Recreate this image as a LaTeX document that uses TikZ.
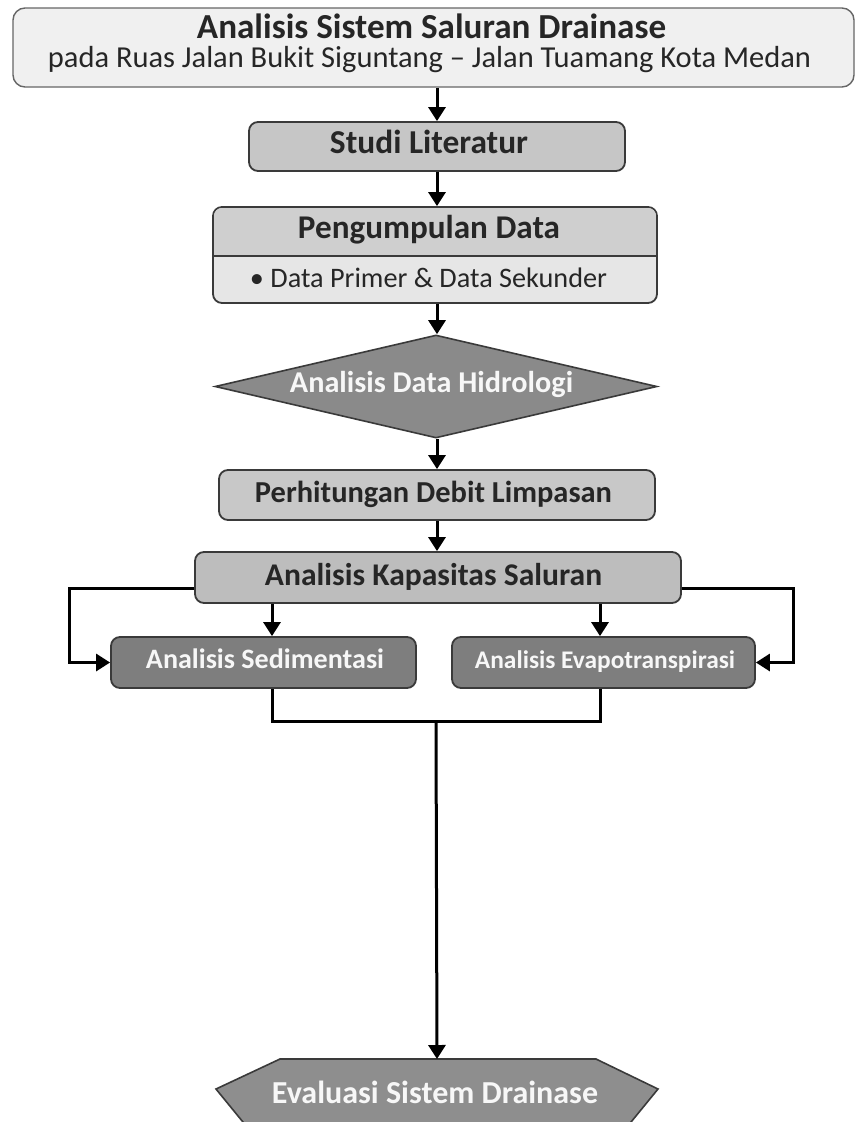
\documentclass[tikz,border=0pt]{standalone}
\usepackage{fontspec}
\setmainfont{Carlito}
\usetikzlibrary{arrows.meta,shapes.geometric,calc}
\definecolor{bordc}{HTML}{3A3A3A}
\definecolor{txtc}{HTML}{262626}
\definecolor{titlefill}{HTML}{F0F0F0}
\definecolor{studifill}{HTML}{C6C6C6}
\definecolor{pgtop}{HTML}{CFCFCF}
\definecolor{pglow}{HTML}{E6E6E6}
\definecolor{diafill}{HTML}{8A8A8A}
\definecolor{perhfill}{HTML}{C8C8C8}
\definecolor{kapfill}{HTML}{BDBDBD}
\definecolor{darkfill}{HTML}{7E7E7E}
\definecolor{evalfill}{HTML}{8E8E8E}
\definecolor{whitetxt}{HTML}{F7F7F7}
\newcommand{\fitw}[2]{\resizebox{#1pt}{!}{#2}}
\begin{document}
\begin{tikzpicture}[x=1pt,y=-1pt,
  box/.style={draw=bordc, line width=1.8pt, rounded corners=9pt, inner sep=0pt},
  lbl/.style={anchor=base, inner sep=0pt, text=txtc},
  wlbl/.style={anchor=base, inner sep=0pt, text=whitetxt},
  arr/.style={line width=3pt, -{Triangle[width=17pt 0 0,length=14pt 0 0]}},
  ln/.style={line width=3pt}]
\useasboundingbox (0,0) rectangle (856,1122);
\clip (0,0) rectangle (856,1122);

% title
\node[box, draw=black!60, line width=1.4pt, rounded corners=12pt, fill=titlefill,
      minimum width=841pt, minimum height=79pt] (title) at (433.5,47.5) {};
\node[lbl] (t1) at (431.5,38) {\fitw{469}{\bfseries Analisis Sistem Saluran Drainase}};
\node[lbl] (t2) at (429.5,67) {\fitw{763}{pada Ruas Jalan Bukit Siguntang – Jalan Tuamang Kota Medan}};

% studi literatur
\node[box, fill=studifill, minimum width=376pt, minimum height=49pt] (studi) at (437,146.5) {};
\node[lbl] (studit) at (429,153) {\fitw{198}{\bfseries Studi Literatur}};

% pengumpulan data
\node[box, fill=pglow, minimum width=444pt, minimum height=96pt] (pg) at (435,255) {};
\begin{scope}
  \clip[rounded corners=8pt] (214,208) rectangle (656,302);
  \fill[pgtop] (214,208) rectangle (656,256);
\end{scope}
\draw[bordc, line width=1.8pt] (pg.west |- 0,256) -- (pg.east |- 0,256);
\node[lbl] (pgt) at (429,238) {\fitw{262}{\bfseries Pengumpulan Data}};
\node[lbl] (pgb) at (428.5,287) {\fitw{357}{• Data Primer \& Data Sekunder}};

% diamond
\node[diamond, aspect=4.29, draw=bordc, line width=1.6pt, fill=diafill, inner sep=0pt,
      minimum width=442pt, minimum height=103pt] (dia) at (436,386.5) {};
\node[wlbl] (diat) at (431.5,392) {\fitw{283}{\bfseries Analisis Data Hidrologi}};

% perhitungan
\node[box, fill=perhfill, minimum width=436pt, minimum height=50pt] (perh) at (437,495) {};
\node[lbl] (perht) at (433.5,502) {\fitw{357}{\bfseries Perhitungan Debit Limpasan}};

% kapasitas
\node[box, fill=kapfill, minimum width=486pt, minimum height=51pt] (kap) at (438,577.5) {};
\node[lbl] (kapt) at (433.5,585) {\fitw{337}{\bfseries Analisis Kapasitas Saluran}};

% sedimentasi / evapotranspirasi
\node[box, fill=darkfill, minimum width=305pt, minimum height=51pt] (sed) at (263.5,662.5) {};
\node[wlbl] (sedt) at (265,668) {\fitw{238}{\bfseries Analisis Sedimentasi}};
\node[box, fill=darkfill, minimum width=303pt, minimum height=51pt] (evp) at (603.5,662.5) {};
\node[wlbl] (evpt) at (605,668) {\fitw{260}{\bfseries Analisis Evapotranspirasi}};

% evaluasi
\fill[evalfill, draw=bordc, line width=1.6pt]
  (280,1059) -- (596,1059) -- (658,1089) -- (600,1160) -- (274,1160) -- (216,1089) -- cycle;
\coordinate (evtop) at (437,1059);
\node[wlbl] (evt) at (435,1103) {\fitw{326}{\bfseries Evaluasi Sistem Drainase}};

% coordinates for connectors
\coordinate (mx) at (437,0);
\coordinate (sdx) at (272,0);
\coordinate (edx) at (600,0);
\coordinate (kl) at (69,588);
\coordinate (kr) at (793,588);
\coordinate (mj) at (436,721);

% main column arrows
\draw[arr] (title.south -| mx) -- (studi.north -| mx);
\draw[arr] (studi.south -| mx) -- (pg.north -| mx);
\draw[arr] (pg.south -| mx) -- (dia.north -| mx);
\draw[arr] (dia.south -| mx) -- (perh.north -| mx);
\draw[arr] (perh.south -| mx) -- (kap.north -| mx);

% branches
\draw[arr] (kap.south -| sdx) -- (sed.north -| sdx);
\draw[arr] (kap.south -| edx) -- (evp.north -| edx);
\draw[arr] (kap.west |- kl) -- (kl) |- (sed.west);
\draw[arr] (kap.east |- kr) -- (kr) |- (evp.east);

% merge
\draw[ln] (sed.south -| sdx) |- (mj);
\draw[ln] (evp.south -| edx) |- (mj);
\draw[arr] (mj) -- (evtop);
\end{tikzpicture}
\end{document}
